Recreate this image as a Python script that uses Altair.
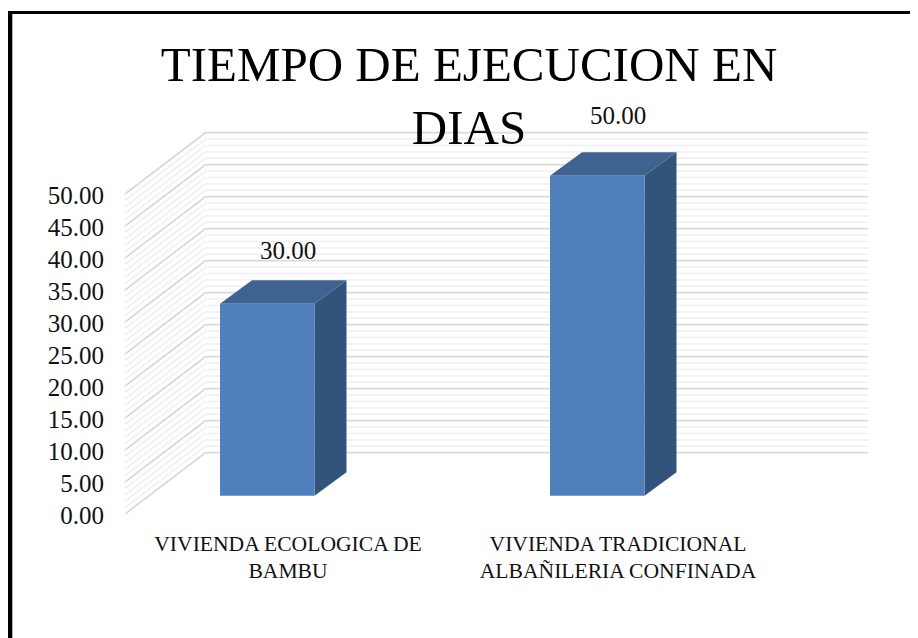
import altair as alt
import pandas as pd

TITLE_LINES = ["TIEMPO DE EJECUCION EN", "DIAS"]
CATEGORIES = ["VIVIENDA ECOLOGICA DE\nBAMBU", "VIVIENDA TRADICIONAL\nALBAÑILERIA CONFINADA"]
VALUES = [30.0, 50.0]
MAJOR_TICKS = [0, 5, 10, 15, 20, 25, 30, 35, 40, 45, 50]
MINOR_TICKS = [v for v in range(0, 51) if v % 5 != 0]

FONT = "Liberation Serif"
W, H = 902, 630
PX = 6.4              # pixels per value unit on the front plane
Y0 = 514              # page y of value 0 on the front plane


def yv(page_y):
    return (Y0 - page_y) / PX


WALL_FRONT, WALL_BACK, WALL_RIGHT = 125, 205.5, 868
WALL_LIFT = 61.3 / PX
BAR_LEFT = [220, 550]
BAR_W = 94.5
BAR_BASE = yv(495.7)
DEPTH_X, DEPTH_LIFT = 32, 23.5 / PX
LABEL_X = [288, 618]
LABEL_BASE = [259, 124]
CAT_BASE = 550.5
TICK_LABEL_X = 104

x_scale = alt.Scale(domain=[8, 8 + W], range=[0, W], nice=False, zero=False)
y_scale = alt.Scale(domain=[yv(8 + H), yv(8)], range=[H, 0], nice=False, zero=False)


def wall_rows(ticks):
    rows = []
    for t in ticks:
        rows += [
            {"t": t, "o": 0, "x": WALL_FRONT, "y": t},
            {"t": t, "o": 1, "x": WALL_BACK, "y": t + WALL_LIFT},
            {"t": t, "o": 2, "x": WALL_RIGHT, "y": t + WALL_LIFT},
        ]
    return pd.DataFrame(rows)


X = alt.X("x:Q", scale=x_scale, axis=None)
Y = alt.Y("y:Q", scale=y_scale, axis=None)


def grid(ticks, colour, width):
    return alt.Chart(wall_rows(ticks)).mark_line(color=colour, strokeWidth=width).encode(
        x=X, y=Y, detail="t:N", order="o:Q"
    )


minor = grid(MINOR_TICKS, "#f0f0f0", 1.5)
major = grid(MAJOR_TICKS, "#d9d9d9", 1.7)

tick_labels = alt.Chart(pd.DataFrame({
    "x": [TICK_LABEL_X] * len(MAJOR_TICKS),
    "y": MAJOR_TICKS,
    "t": [f"{t:.2f}" for t in MAJOR_TICKS],
})).mark_text(font=FONT, fontSize=25, baseline="middle", align="right", dy=2, color="#111111").encode(
    x=X, y=Y, text="t:N"
)

front_rows, side_rows, top_rows = [], [], []
for left, v in zip(BAR_LEFT, VALUES):
    right = left + BAR_W
    front_rows.append({"x": left, "x2": right, "y": BAR_BASE, "y2": BAR_BASE + v})
    side_rows += [
        {"b": v, "x": right, "y": BAR_BASE + v, "y2": BAR_BASE},
        {"b": v, "x": right + DEPTH_X, "y": BAR_BASE + v + DEPTH_LIFT, "y2": BAR_BASE + DEPTH_LIFT},
    ]
    top_rows += [
        {"b": v, "y": BAR_BASE + v, "x": left, "x2": right},
        {"b": v, "y": BAR_BASE + v + DEPTH_LIFT, "x": left + DEPTH_X, "x2": right + DEPTH_X},
    ]

front = alt.Chart(pd.DataFrame(front_rows)).mark_rect(color="#4f80bc").encode(
    x=X, x2="x2:Q", y=Y, y2="y2:Q"
)
side = alt.Chart(pd.DataFrame(side_rows)).mark_area(color="#32547a", orient="vertical").encode(
    x=X, y=Y, y2="y2:Q", detail="b:N"
)
top = alt.Chart(pd.DataFrame(top_rows)).mark_area(color="#3e6390", orient="horizontal").encode(
    y=Y, x=X, x2="x2:Q", detail="b:N"
)

bar_labels = alt.Chart(pd.DataFrame({
    "x": LABEL_X, "y": [yv(b) for b in LABEL_BASE], "t": [f"{v:.2f}" for v in VALUES],
})).mark_text(font=FONT, fontSize=25, baseline="alphabetic", align="center", color="#111111").encode(
    x=X, y=Y, text="t:N"
)

cat_labels = alt.Chart(pd.DataFrame({
    "x": LABEL_X, "y": [yv(CAT_BASE)] * 2, "t": CATEGORIES,
})).mark_text(
    font=FONT, fontSize=21.6, baseline="alphabetic", align="center", color="#111111",
    lineBreak="\n", lineHeight=27,
).encode(x=X, y=Y, text="t:N")

frame_left = alt.Chart(pd.DataFrame({"a": [0]})).mark_rule(color="black", strokeWidth=4.4).encode(
    x=alt.value(2.1), y=alt.value(3), y2=alt.value(H)
)
frame_top = alt.Chart(pd.DataFrame({"a": [0]})).mark_rule(color="black", strokeWidth=3).encode(
    y=alt.value(4.5), x=alt.value(0), x2=alt.value(W)
)

chart = alt.layer(
    minor, major, tick_labels, side, top, front, bar_labels, cat_labels, frame_left, frame_top
).properties(
    width=W, height=H, padding=0, autosize=alt.AutoSizeParams(type="none"),
    title=alt.TitleParams(
        text=TITLE_LINES, font=FONT, fontSize=49, fontWeight="normal", color="black",
        anchor="middle", lineHeight=63, baseline="alphabetic", orient="top", offset=0, dx=10, dy=185,
    ),
).configure_view(stroke=None)

chart.save("out.html", embed_options={"renderer": "svg", "actions": False})
